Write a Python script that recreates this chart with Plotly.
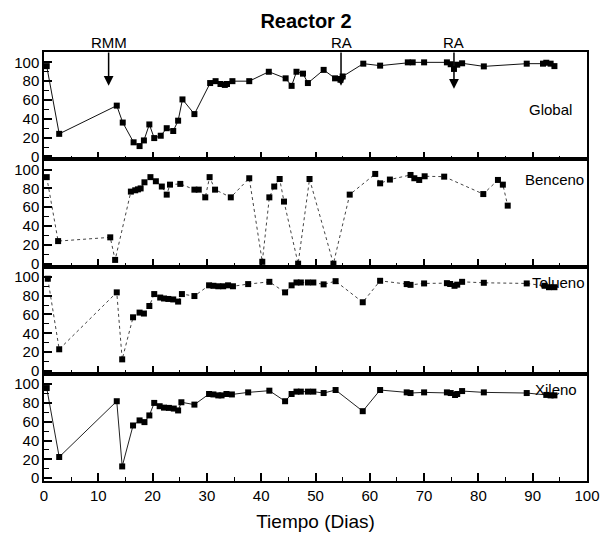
import plotly.graph_objects as go
from plotly.subplots import make_subplots

# Removal efficiency (%) vs. time (days) for Reactor 2
global_dias = [0.5, 2.8, 13.4, 14.5, 16.5, 17.6, 18.4, 19.4, 20.3, 21.5, 22.6, 23.8, 24.7, 25.5,
               27.7, 30.6, 31.6, 32.5, 33.3, 33.7, 34.7, 37.8, 41.4, 44.5, 45.6, 46.5, 47.7,
               48.6, 51.5, 53.6, 54.6, 55.0, 58.8, 61.9, 67.0, 67.9, 70.0, 74.2, 74.9, 75.5,
               76.1, 77.0, 81.0, 88.9, 91.9, 92.5, 93.3, 94.0]
global_vals = [96, 24, 54, 36, 15, 11, 17, 34, 19.5, 22, 30, 27, 38, 60.6,
               45, 78, 80, 77, 76, 77, 80, 80, 90, 83, 75, 90, 88,
               78, 92, 83, 81.5, 85, 98.6, 96.5, 100, 100, 100, 100, 98, 93,
               97.5, 99, 95.7, 98.6, 98.6, 99.6, 98.6, 96]

benceno_dias = [0.5, 2.6, 12.2, 13.1, 16.0, 16.8, 17.3, 17.8, 18.5, 19.6, 20.6, 21.7, 22.6, 23.2,
                25.1, 27.7, 28.5, 29.7, 30.5, 31.5, 34.4, 37.8, 40.2, 41.5, 42.4, 43.4, 44.2,
                46.8, 48.9, 53.3, 56.3, 61.0, 61.9, 63.7, 67.5, 68.2, 69.1, 70.1, 73.7, 80.9,
                83.6, 84.5, 85.4]
benceno_vals = [92, 24, 28, 4, 76.6, 78, 79, 80, 86.5, 92, 87.6, 82, 73.4, 84,
                84.8, 78.7, 78.7, 70.5, 92, 78.7, 70.5, 90.8, 2, 70.5, 82, 90, 66,
                0, 90, 0, 73.4, 95.4, 85.4, 89.4, 94.3, 90.8, 89, 92.9, 92.5, 74,
                89, 84, 61.7]

tolueno_dias = [0.7, 2.8, 13.4, 14.4, 16.4, 17.6, 18.4, 19.4, 20.3, 21.4, 22.1, 22.9, 23.8, 24.7,
                25.4, 27.7, 30.4, 31.2, 32.1, 33.0, 33.9, 34.8, 37.6, 41.5, 44.4, 45.6, 46.5,
                47.3, 48.6, 49.6, 51.5, 53.7, 58.7, 61.9, 66.8, 67.5, 70.0, 74.2, 74.8, 75.6,
                76.1, 77.0, 81.0, 88.9, 92.2, 93.0, 94.0]
tolueno_vals = [98, 23, 83.5, 12.3, 57, 62, 61, 69, 81.7, 78, 77, 76.5, 76, 73.7,
                81.7, 79.6, 91, 90.5, 90, 90, 91, 90, 92.3, 94.7, 83.5, 91, 94,
                94, 94, 94, 92, 95.4, 73, 95.8, 92.3, 91.5, 93, 93.3, 92.4, 90.5,
                91.7, 94.7, 93.7, 93, 90.5, 89, 89]

xileno_dias = [0.5, 2.8, 13.4, 14.4, 16.4, 17.6, 18.5, 19.4, 20.3, 21.3, 22.1, 23.0, 23.9, 24.7,
               25.3, 27.7, 30.4, 31.2, 32.1, 32.7, 33.6, 34.6, 37.6, 41.5, 44.4, 45.6, 46.5,
               47.3, 48.6, 49.6, 51.5, 53.7, 58.7, 61.9, 66.8, 67.5, 70.0, 74.2, 74.9, 75.7,
               76.1, 77.0, 81.0, 88.9, 92.5, 93.3, 94.0]
xileno_vals = [95.8, 22.5, 81.8, 12.5, 56, 61.4, 59.6, 66.7, 80, 76.5, 75, 74.7, 74, 72,
               80.7, 78.2, 89.5, 89, 88, 88, 89.5, 89, 91.2, 93, 81.8, 89.5, 92,
               92, 92, 92, 90.5, 93.7, 71.2, 93.7, 91.2, 90.5, 91.2, 91.2, 90.5, 88.4,
               89.5, 92.6, 91.2, 90.5, 88.5, 88, 88]

series_names = ["Global", "Benceno", "Tolueno", "Xileno"]
series_dias = [global_dias, benceno_dias, tolueno_dias, xileno_dias]
series_vals = [global_vals, benceno_vals, tolueno_vals, xileno_vals]
series_dash = ["solid", "dot", "dot", "solid"]
series_color = ["#111", "#444", "#444", "#222"]

# Operational events marked on the Global panel
event_labels = ["RMM", "RA", "RA"]
event_dias = [11.9, 54.7, 75.5]
event_tips = [75, 75, 72]

x_ticks = [0, 10, 20, 30, 40, 50, 60, 70, 80, 90, 100]
y_ticks = [0, 20, 40, 60, 80, 100]

FONT = "Liberation Sans, Arial, sans-serif"

fig = make_subplots(rows=4, cols=1, shared_xaxes=True, vertical_spacing=0)

for i, (name, xs, ys, dash, col) in enumerate(
        zip(series_names, series_dias, series_vals, series_dash, series_color)):
    row = i + 1
    fig.add_trace(go.Scatter(
        x=xs, y=ys, mode="lines+markers", name=name, showlegend=False,
        line=dict(color=col, width=1, dash=dash),
        marker=dict(symbol="square", size=6, color="black"),
        cliponaxis=False,
    ), row=row, col=1)
    fig.update_yaxes(
        range=[-3, 111], tickvals=y_ticks, ticks="inside", ticklen=8, tickwidth=1.5,
        tickcolor="black", showline=True, linecolor="black", linewidth=1.5, mirror=True,
        showgrid=False, zeroline=False,
        minor=dict(dtick=10, tick0=0, ticks="inside", ticklen=5, tickcolor="black", tickwidth=1.2),
        tickfont=dict(family=FONT, size=15, color="black"),
        row=row, col=1)
    fig.update_xaxes(
        range=[0, 100], tickvals=x_ticks, ticks="inside", ticklen=8, tickwidth=1.5,
        tickcolor="black", showline=True, linecolor="black", linewidth=1.5, mirror=True,
        showgrid=False, zeroline=False,
        minor=dict(dtick=5, tick0=0, ticks="inside", ticklen=4, tickcolor="black", tickwidth=1.2),
        tickfont=dict(family=FONT, size=15, color="black"),
        row=row, col=1)

fig.update_xaxes(title=dict(text="Tiempo (Dias)", font=dict(family=FONT, size=19, color="black"),
                            standoff=12), row=4, col=1)

annotations = []
# Series name inside each panel, right-aligned near the frame
label_pos = [(97.6, 50), (99.9, 90), (100.0, 94), (98.6, 94)]
for i, name in enumerate(series_names):
    ax_id = "" if i == 0 else str(i + 1)
    annotations.append(dict(
        x=label_pos[i][0], y=label_pos[i][1], xref="x" + ax_id, yref="y" + ax_id,
        xanchor="right", text=name, showarrow=False,
        font=dict(family=FONT, size=15, color="black")))

# Event arrows pointing down into the Global panel, labels above the frame
for lab, d, tip in zip(event_labels, event_dias, event_tips):
    annotations.append(dict(
        x=d, y=tip, xref="x", yref="y", text=lab, showarrow=True,
        axref="x", ayref="y", ax=d, ay=121,
        arrowhead=2, arrowsize=1.3, arrowwidth=1.5, arrowcolor="black",
        font=dict(family=FONT, size=15, color="black")))

fig.update_layout(
    width=612, height=542,
    margin=dict(l=44, r=14, t=52, b=61),
    paper_bgcolor="white", plot_bgcolor="white",
    title=dict(text="<b>Reactor 2</b>", x=0.5, xanchor="center", y=0.962, yanchor="middle",
               font=dict(family=FONT, size=20, color="black")),
    annotations=annotations,
)

fig.write_html("out.html")
